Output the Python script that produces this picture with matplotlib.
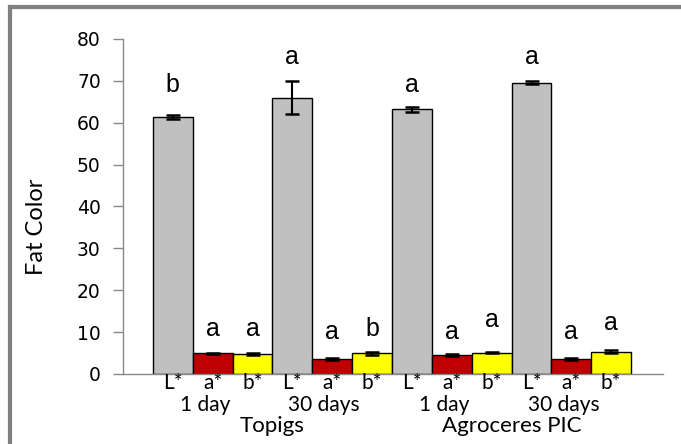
import numpy as np
import matplotlib.pyplot as plt
from matplotlib.lines import Line2D
from matplotlib.transforms import blended_transform_factory

# bar values: L*, a*, b* for each breed/time
breeds = ['Topigs', 'Agroceres PIC']
times = ['1 day', '30 days']
attrs = ['L*', 'a*', 'b*']
values = [61.4, 4.9, 4.8, 66.0, 3.5, 4.9,
          63.2, 4.5, 5.1, 69.6, 3.6, 5.3]
errors = [0.4, 0.2, 0.2, 4.0, 0.2, 0.3,
          0.6, 0.3, 0.1, 0.3, 0.2, 0.4]
letters = ['b', 'a', 'a', 'a', 'a', 'b',
           'a', 'a', 'a', 'a', 'a', 'a']
letter_y = [69.0, 10.7, 10.7, 75.7, 10.0, 10.7,
            69.0, 10.0, 12.9, 75.7, 10.0, 12.2]

colors = {'L*': '#c0c0c0', 'a*': '#c00000', 'b*': '#ffff00'}

fig = plt.figure(figsize=(6.81, 4.44), dpi=100)
ax = fig.add_axes([0.1806, 0.1577, 0.793, 0.7545])

n = len(values)
x = np.arange(n)
bar_cols = [colors[attrs[i % 3]] for i in range(n)]
ax.bar(x, values, width=1.0, color=bar_cols, edgecolor='black', linewidth=1.0,
       yerr=errors, error_kw=dict(ecolor='black', elinewidth=1.5, capsize=5, capthick=1.8))

for i in range(n):
    ax.text(x[i], letter_y[i], letters[i], ha='center', va='center', fontsize=18,
            family=['Liberation Sans Narrow', 'Liberation Sans'])

ax.set_ylim(0, 80)
ax.set_xlim(-1.25, 12.3)
ax.set_yticks(np.arange(0, 81, 10))
ax.tick_params(axis='y', direction='out', length=7, width=1, color='#888888',
               labelsize=13.5, pad=9)
ax.set_xticks([])
for s in ['top', 'right']:
    ax.spines[s].set_visible(False)
for s in ['left', 'bottom']:
    ax.spines[s].set_color('#888888')
    ax.spines[s].set_linewidth(1)

ax.set_ylabel('Fat Color', family='Lato', fontsize=17)
ax.yaxis.set_label_coords(-0.14, 0.44)

# category labels under the bars
tr = blended_transform_factory(ax.transData, fig.transFigure)
for i in range(n):
    ax.text(x[i], 1 - 383 / 444, attrs[i % 3], transform=tr, ha='center', va='center',
            family='Lato', fontsize=15)
for b in range(len(breeds)):
    for t in range(len(times)):
        c = b * 6 + t * 3 + 1
        ax.text(x[c] - 0.2, 1 - 405 / 444, times[t], transform=tr, ha='center', va='center',
                family='Lato', fontsize=15)
    ax.text(x[b * 6] + 2.5, 1 - 426 / 444, breeds[b], transform=tr, ha='center', va='center',
            family='Lato', fontsize=16)

# grey frame (left and top edges visible)
fig.add_artist(Line2D([10 / 681, 10 / 681], [0, 1 - 7 / 444], transform=fig.transFigure,
                      color='#808080', linewidth=3))
fig.add_artist(Line2D([10 / 681, 1], [1 - 7 / 444, 1 - 7 / 444], transform=fig.transFigure,
                      color='#808080', linewidth=3))

fig.savefig('out.png', dpi=100)
